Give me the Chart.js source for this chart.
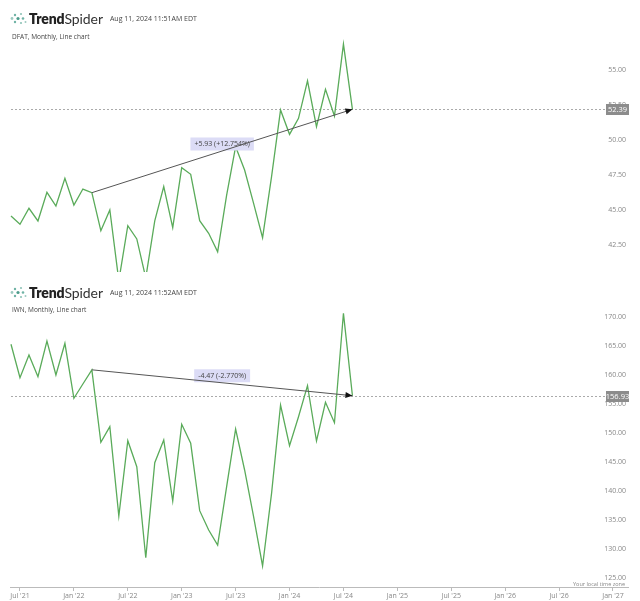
<!DOCTYPE html>
<html lang="en">
<head>
<meta charset="UTF-8">
<title>DFAT vs IWN - Monthly</title>
<script src="https://cdn.jsdelivr.net/npm/chart.js"></script>
<style>
    body { margin: 0; background: #fff; font-family: "Open Sans", Arial, sans-serif; }
    .wrap { position: relative; width: 640px; height: 601px; overflow: hidden; }
    canvas { position: absolute; left: 0; }
    #topChart { top: 0; }
    #bottomChart { top: 280px; }
    .brand { position: absolute; left: 10px; height: 14px; display: flex; align-items: center; white-space: nowrap; }
    .brand svg { margin-right: 2px; }
    .brand .name { font-family: Lato, "Open Sans", sans-serif; font-size: 14px; color: #222; letter-spacing: -0.1px; }
    .brand .name b { font-weight: 800; }
    .brand .name span { font-weight: 400; color: #333; }
    .brand .stamp { font-size: 7px; color: #444; margin-left: 7px; }
    .sub { position: absolute; left: 12px; font-size: 6.5px; color: #444; white-space: nowrap; }
    .tz { position: absolute; right: 15px; top: 580px; font-size: 5.5px; color: #888; }
</style>
</head>
<body>
<div class="wrap">
    <canvas id="topChart" width="640" height="280"></canvas>
    <canvas id="bottomChart" width="640" height="321"></canvas>

    <div class="brand" style="top:11px">
        <svg width="17" height="13" viewBox="0 0 17 13">
            <circle cx="2" cy="6.5" r="1.4" fill="#9cc9bf"/>
            <circle cx="5" cy="3" r="1.2" fill="#6fb3a5"/>
            <circle cx="5" cy="10" r="1.2" fill="#6fb3a5"/>
            <circle cx="8" cy="6.5" r="1.6" fill="#4d9c8c"/>
            <circle cx="11" cy="2" r="1.1" fill="#8fc4b8"/>
            <circle cx="11" cy="11" r="1.1" fill="#8fc4b8"/>
            <circle cx="13" cy="6.5" r="1.3" fill="#6fb3a5"/>
            <circle cx="15.5" cy="10" r="1" fill="#9cc9bf"/>
        </svg>
        <span class="name"><b>Trend</b><span>Spider</span></span>
        <span class="stamp">Aug 11, 2024 11:51AM EDT</span>
    </div>
    <div class="sub" style="top:32px">DFAT, Monthly, Line chart</div>

    <div class="brand" style="top:285px">
        <svg width="17" height="13" viewBox="0 0 17 13">
            <circle cx="2" cy="6.5" r="1.4" fill="#9cc9bf"/>
            <circle cx="5" cy="3" r="1.2" fill="#6fb3a5"/>
            <circle cx="5" cy="10" r="1.2" fill="#6fb3a5"/>
            <circle cx="8" cy="6.5" r="1.6" fill="#4d9c8c"/>
            <circle cx="11" cy="2" r="1.1" fill="#8fc4b8"/>
            <circle cx="11" cy="11" r="1.1" fill="#8fc4b8"/>
            <circle cx="13" cy="6.5" r="1.3" fill="#6fb3a5"/>
            <circle cx="15.5" cy="10" r="1" fill="#9cc9bf"/>
        </svg>
        <span class="name"><b>Trend</b><span>Spider</span></span>
        <span class="stamp">Aug 11, 2024 11:52AM EDT</span>
    </div>
    <div class="sub" style="top:305px">IWN, Monthly, Line chart</div>

    <div class="tz">Your local time zone</div>
</div>

<script>
    // Months from Jun '21 to Aug '24 (x = index in this list)
    var months = ["Jun '21", "Jul '21", "Aug '21", "Sep '21", "Oct '21", "Nov '21", "Dec '21",
        "Jan '22", "Feb '22", "Mar '22", "Apr '22", "May '22", "Jun '22", "Jul '22", "Aug '22", "Sep '22", "Oct '22", "Nov '22", "Dec '22",
        "Jan '23", "Feb '23", "Mar '23", "Apr '23", "May '23", "Jun '23", "Jul '23", "Aug '23", "Sep '23", "Oct '23", "Nov '23", "Dec '23",
        "Jan '24", "Feb '24", "Mar '24", "Apr '24", "May '24", "Jun '24", "Jul '24", "Aug '24"];

    // DFAT monthly close
    var dfat = [44.80, 44.21, 45.35, 44.45, 46.49, 45.51, 47.48,
        45.58, 46.72, 46.46, 43.76, 45.23, 40.20, 44.11, 43.17, 40.40, 44.45, 46.89, 43.97,
        48.24, 47.77, 44.47, 43.57, 42.26, 46.29, 49.73, 48.07, 45.70, 43.26, 47.60, 52.34,
        50.61, 51.75, 54.42, 51.15, 53.81, 51.91, 57.03, 52.39];

    // IWN monthly close
    var iwn = [165.81, 160.04, 163.96, 160.21, 166.38, 160.51, 165.98,
        156.48, 158.95, 161.40, 148.88, 151.58, 136.15, 149.16, 144.67, 128.95, 145.36, 149.28, 138.74,
        151.99, 148.71, 137.07, 133.73, 131.14, 141.21, 151.18, 144.10, 136.03, 127.52, 140.07, 155.32,
        148.29, 153.30, 158.66, 149.11, 155.79, 152.27, 171.16, 156.93];

    // x axis ticks (month offset from Jun '21)
    var xTickMonths = [1, 7, 13, 19, 25, 31, 37, 43, 49, 55, 61, 67];
    var xTickLabels = ["Jul '21", "Jan '22", "Jul '22", "Jan '23", "Jul '23", "Jan '24",
        "Jul '24", "Jan '25", "Jul '25", "Jan '26", "Jul '26", "Jan '27"];

    var topTicks = [42.5, 45, 47.5, 50, 52.5, 55];
    var bottomTicks = [125, 130, 135, 140, 145, 150, 155, 160, 165, 170];

    // trend lines: start month index -> last point
    var topTrendStart = 9;
    var topTrendLabel = "+5.93 (+12.754%)";
    var bottomTrendStart = 9;
    var bottomTrendLabel = "-4.47 (-2.770%)";

    var lineGreen = '#5aab5a';
    var xMin = -0.111, xMax = 68.67;

    function overlay(series, trendStart, trendLabel) {
        return {
            id: 'overlay',
            beforeDatasetsDraw: function(chart) {
                var ctx = chart.ctx, x = chart.scales.x, y = chart.scales.y;
                var yLast = Math.round(y.getPixelForValue(series[series.length - 1])) + 0.5;
                ctx.save();
                ctx.setLineDash([2, 2]);
                ctx.strokeStyle = '#aaa';
                ctx.lineWidth = 1;
                ctx.beginPath();
                ctx.moveTo(x.getPixelForValue(0), yLast);
                ctx.lineTo(chart.chartArea.right - 22, yLast);
                ctx.stroke();
                ctx.restore();
            },
            afterDatasetsDraw: function(chart) {
                var ctx = chart.ctx, x = chart.scales.x, y = chart.scales.y;
                var last = series.length - 1;
                var x1 = x.getPixelForValue(trendStart), y1 = y.getPixelForValue(series[trendStart]);
                var x2 = x.getPixelForValue(last), y2 = y.getPixelForValue(series[last]);
                ctx.save();

                // label box at middle of trend line
                ctx.font = '7px "Open Sans", sans-serif';
                var tw = ctx.measureText(trendLabel).width;
                var mx = (x1 + x2) / 2, my = (y1 + y2) / 2 - 7;
                ctx.fillStyle = '#dcdcf6';
                ctx.fillRect(mx - tw / 2 - 4, my - 6.5, tw + 8, 13);
                ctx.fillStyle = '#444';
                ctx.textAlign = 'center';
                ctx.textBaseline = 'middle';
                ctx.fillText(trendLabel, mx, my);

                // trend line + arrow
                ctx.strokeStyle = '#555';
                ctx.lineWidth = 1;
                ctx.beginPath();
                ctx.moveTo(x1, y1);
                ctx.lineTo(x2, y2);
                ctx.stroke();
                var ang = Math.atan2(y2 - y1, x2 - x1);
                ctx.fillStyle = '#111';
                ctx.beginPath();
                ctx.moveTo(x2, y2);
                ctx.lineTo(x2 - 7 * Math.cos(ang) + 3 * Math.sin(ang), y2 - 7 * Math.sin(ang) - 3 * Math.cos(ang));
                ctx.lineTo(x2 - 7 * Math.cos(ang) - 3 * Math.sin(ang), y2 - 7 * Math.sin(ang) + 3 * Math.cos(ang));
                ctx.closePath();
                ctx.fill();

                // last price box on the price axis
                var yl = y.getPixelForValue(series[last]);
                var bx = chart.chartArea.right - 22;
                ctx.fillStyle = '#8c8c8c';
                ctx.fillRect(bx, Math.round(yl) - 5, 23, 11);
                ctx.fillStyle = '#fff';
                ctx.font = '7.5px "Open Sans", sans-serif';
                ctx.fillText(series[last].toFixed(2), bx + 11.5, Math.round(yl) + 0.5);
                ctx.restore();
            }
        };
    }

    function yAxis(min, max, ticks) {
        return {
            position: 'right',
            min: min,
            max: max,
            afterFit: function(s) { s.width = 0; },
            afterBuildTicks: function(s) { s.ticks = ticks.map(function(v) { return { value: v }; }); },
            grid: { display: false },
            border: { display: false },
            ticks: {
                mirror: true,
                padding: -2,
                labelOffset: -3,
                color: '#888',
                font: { size: 7, family: '"Open Sans", sans-serif' },
                callback: function(v) { return v.toFixed(2); }
            }
        };
    }

    function lineData(series) {
        return {
            labels: months,
            datasets: [{
                data: series.map(function(v, i) { return { x: i, y: v }; }),
                borderColor: lineGreen,
                borderWidth: 1.3,
                pointRadius: 0,
                tension: 0,
                fill: false
            }]
        };
    }

    // Top chart: DFAT
    new Chart(document.getElementById('topChart'), {
        type: 'line',
        data: lineData(dfat),
        options: {
            responsive: false,
            animation: false,
            layout: { padding: { top: 30, bottom: 8, left: 10, right: 12 } },
            plugins: { legend: { display: false }, tooltip: { enabled: false } },
            scales: {
                x: { type: 'linear', min: xMin, max: xMax, display: false },
                y: yAxis(40.82, 58.03, topTicks)
            }
        },
        plugins: [overlay(dfat, topTrendStart, topTrendLabel)]
    });

    // Bottom chart: IWN
    new Chart(document.getElementById('bottomChart'), {
        type: 'line',
        data: lineData(iwn),
        options: {
            responsive: false,
            animation: false,
            layout: { padding: { top: 20, bottom: 0, left: 10, right: 12 } },
            plugins: { legend: { display: false }, tooltip: { enabled: false } },
            scales: {
                x: {
                    type: 'linear',
                    min: xMin,
                    max: xMax,
                    afterFit: function(s) { s.height = 14; },
                    afterBuildTicks: function(s) { s.ticks = xTickMonths.map(function(v) { return { value: v }; }); },
                    grid: { drawOnChartArea: false, tickLength: 4, color: '#bbb' },
                    border: { color: '#bbb' },
                    ticks: {
                        autoSkip: false,
                        maxRotation: 0,
                        padding: 1,
                        color: '#888',
                        font: { size: 7, family: '"Open Sans", sans-serif' },
                        callback: function(v, i) { return xTickLabels[i]; }
                    }
                },
                y: yAxis(123.89, 173.46, bottomTicks)
            }
        },
        plugins: [overlay(iwn, bottomTrendStart, bottomTrendLabel)]
    });
</script>
</body>
</html>
